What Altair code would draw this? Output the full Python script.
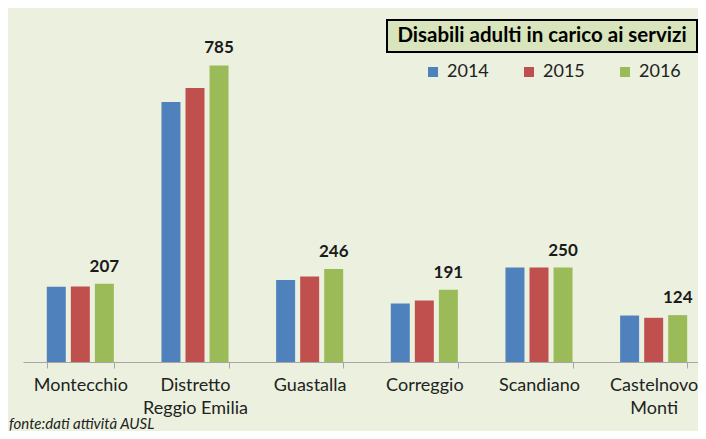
import altair as alt
import pandas as pd

categorie = ["Montecchio", "Distretto|Reggio Emilia", "Guastalla", "Correggio", "Scandiano", "Castelnovo|Monti"]
anni = ["2014", "2015", "2016"]
v2014 = [199, 688, 217, 155, 250, 123]
v2015 = [200, 725, 226, 163, 250, 117]
v2016 = [207, 785, 246, 191, 250, 124]
colori = ["#4F81BD", "#C0504D", "#9BBB59"]
titolo = "Disabili adulti in carico ai servizi"
fonte = "fonte:dati attività AUSL"

rows = []
for i, c in enumerate(categorie):
    for a, vals in zip(anni, [v2014, v2015, v2016]):
        rows.append({"Distretto": c, "Anno": a, "Valore": vals[i]})
df = pd.DataFrame(rows)

FONT = "Lato"

x_enc = alt.X(
    "Distretto:N",
    sort=categorie,
    scale=alt.Scale(range=[0, 688], paddingInner=0.415, paddingOuter=0.2075),
    axis=alt.Axis(
        title=None, labelAngle=0, labelExpr="split(datum.label, '|')",
        labelFont=FONT, labelFontSize=18, labelColor="#222222", labelLineHeight=23,
        labelPadding=8, domainColor="#A6A6A6", tickColor="#A6A6A6", tickSize=6,
        tickBand="extent", labelBaseline="top",
    ),
)
xo_enc = alt.XOffset("Anno:N", sort=anni, scale=alt.Scale(paddingInner=0.21, paddingOuter=0))
y_enc = alt.Y("Valore:Q", scale=alt.Scale(domain=[0, 900]), axis=None)

base = alt.Chart(df)

bars = base.mark_bar().encode(
    x=x_enc, xOffset=xo_enc, y=y_enc,
    color=alt.Color(
        "Anno:N", sort=anni, scale=alt.Scale(domain=anni, range=colori),
        legend=alt.Legend(
            title=None, orient="none", legendX=401, legendY=41, direction="horizontal",
            columns=3, symbolType="square", symbolSize=100, symbolStrokeWidth=0,
            labelFont=FONT, labelFontSize=18, labelColor="#222222", columnPadding=31,
            labelOffset=5, padding=0,
        ),
    ),
)

labels = base.transform_filter(alt.datum.Anno == "2016").mark_text(
    font=FONT, fontSize=17, fontWeight="bold", dy=-12, baseline="alphabetic", color="#1a1a1a"
).encode(x=x_enc, xOffset=xo_enc, y=y_enc, text="Valore:Q")

tdf = pd.DataFrame({"t": [titolo]})
box = alt.Chart(tdf).mark_rect(fill="#D8E4BC", stroke="black", strokeWidth=2).encode(
    x=alt.value(364), x2=alt.value(674), y=alt.value(-2), y2=alt.value(30)
)
title_txt = alt.Chart(tdf).mark_text(
    font=FONT, fontSize=20.5, fontWeight="bold", color="black", baseline="middle", align="center"
).encode(text="t:N", x=alt.value(519), y=alt.value(14))

fdf = pd.DataFrame({"f": [fonte]})
footer = alt.Chart(fdf).mark_text(
    font=FONT, fontSize=15, fontStyle="italic", color="#222222", baseline="middle", align="left"
).encode(text="f:N", x=alt.value(-14), y=alt.value(402))

chart = alt.layer(bars, labels, box, title_txt, footer).properties(
    width=675, height=340,
    autosize=alt.AutoSizeParams(type="none"),
    padding={"left": 15, "top": 14, "right": 0, "bottom": 69},
    background="#EBF1DE",
).configure_view(stroke=None)

chart.save("out.html", embed_options={"renderer": "svg", "actions": False})
